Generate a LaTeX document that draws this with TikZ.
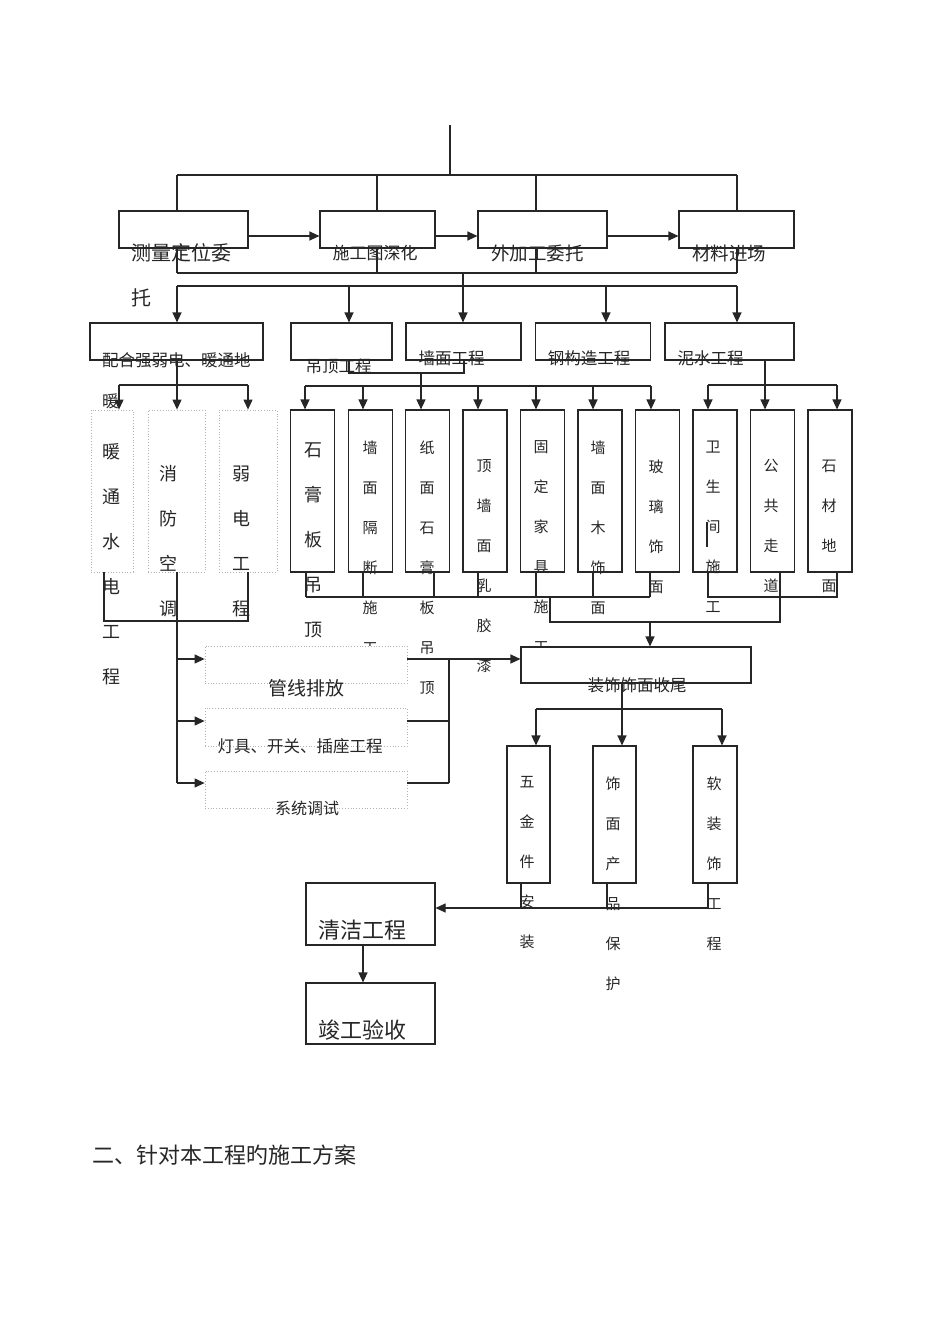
\documentclass[tikz,border=0pt]{standalone}
\usepackage{fontspec}
\setmainfont{Noto Sans CJK SC}
\usetikzlibrary{arrows.meta}
\newcommand\colA{\fontsize{18}{45}\selectfont}
\newcommand\colB{\fontsize{15}{40}\selectfont}
\newcommand\fsz[1]{\fontsize{#1}{#1}\selectfont}

\begin{document}
\begin{tikzpicture}[x=1pt,y=-1pt,
    box/.style={draw=black!85, line width=1.1pt, fill=white, inner sep=0pt},
    faint/.style={draw=black!30, dotted, line width=0.8pt, fill=white, inner sep=0pt},
    tall/.style={box, minimum width=44pt, minimum height=162pt},
    link/.style={draw=black!85, line width=1.1pt},
    arr/.style={link, -{Triangle[length=10pt,width=9pt]}},
    lbl/.style={inner sep=0pt, text=black!85},
    col/.style={lbl, anchor=north, align=center}]
    \useasboundingbox (0,0) rectangle (950,1344);

    % Preparation row
    \node[box, minimum width=129pt, minimum height=37pt] (survey) at (183.5,229.5) {};
    \node[box, minimum width=115pt, minimum height=37pt] (drawing) at (377.5,229.5) {};
    \node[box, minimum width=129pt, minimum height=37pt] (outsource) at (542.5,229.5) {};
    \node[box, minimum width=115pt, minimum height=37pt] (material) at (736.5,229.5) {};

    \coordinate (top) at (450,125);
    \coordinate (t1) at (177,175);
    \coordinate (t2) at (377,175);
    \coordinate (t3) at (536,175);
    \coordinate (t4) at (737,175);
    \draw[link] (top) -- (top |- t1);
    \draw[link] (t1) -- (t4);
    \foreach \p/\q in {t1/survey,t2/drawing,t3/outsource,t4/material}
        \draw[link] (\p) -- (\p |- \q.north);
    \foreach \p/\q in {survey/drawing,drawing/outsource,outsource/material}
        \draw[arr] ([yshift=-6.5pt]\p.east) -- ([yshift=-6.5pt]\q.west);

    % Trades row
    \node[box, minimum width=173pt, minimum height=37pt] (coord) at (176.5,341.5) {};
    \node[box, minimum width=101pt, minimum height=37pt] (ceiling) at (341.5,341.5) {};
    \node[box, minimum width=115pt, minimum height=37pt] (wall) at (463.5,341.5) {};
    \node[box, minimum width=115pt, minimum height=37pt] (steel) at (593,341.5) {};
    \node[box, minimum width=129pt, minimum height=37pt] (masonry) at (729.5,341.5) {};

    \coordinate (g1) at (177,273);
    \coordinate (g2) at (377,273);
    \coordinate (g3) at (536,273);
    \coordinate (g4) at (737,273);
    \draw[link] (g1) -- (g4);
    \foreach \p/\q in {g1/survey,g2/drawing,g3/outsource,g4/material}
        \draw[link] (\q.south -| \p) -- (\p);
    \coordinate (gm) at (463,273);
    \draw[arr] (gm) -- (gm |- wall.north);
    \coordinate (h1) at (177,286);
    \coordinate (h2) at (349,286);
    \coordinate (h4) at (606,286);
    \coordinate (h5) at (737,286);
    \draw[link] (h1) -- (h5);
    \foreach \p/\q in {h1/coord,h2/ceiling,h4/steel,h5/masonry}
        \draw[arr] (\p) -- (\p |- \q.north);

    % Work items
    \node[faint, minimum width=42pt, minimum height=162pt] (hvac) at (112,491) {};
    \node[faint, minimum width=57pt, minimum height=162pt] (fire) at (176.5,491) {};
    \node[faint, minimum width=58pt, minimum height=162pt] (weak) at (248,491) {};
    \node[tall] (gypsum) at (312.5,491) {};
    \node[tall] (partition) at (370.5,491) {};
    \node[tall] (paper) at (427.5,491) {};
    \node[tall] (paint) at (485,491) {};
    \node[tall] (furniture) at (542.5,491) {};
    \node[tall] (wood) at (600,491) {};
    \node[tall] (glass) at (657.5,491) {};
    \node[tall] (toilet) at (715,491) {};
    \node[tall] (corridor) at (772.5,491) {};
    \node[tall] (stone) at (830,491) {};

    \coordinate (k0) at (177,385);
    \coordinate (k1) at (119,385);
    \coordinate (k3) at (248,385);
    \draw[arr] (coord.south -| k0) -- (k0 |- fire.north);
    \draw[link] (k1) -- (k3);
    \draw[arr] (k1) -- (k1 |- hvac.north);
    \draw[arr] (k3) -- (k3 |- weak.north);

    \coordinate (m1) at (349,373);
    \coordinate (m2) at (464,373);
    \coordinate (mj) at (421,373);
    \draw[link] (ceiling.south -| m1) -- (m1) -- (m2) -- (wall.south -| m2);
    \draw[arr] (mj) -- (mj |- paper.north);
    \draw[link] (305,386) coordinate (ca) -- (651,386) coordinate (cb);
    \foreach \p/\q in {305/gypsum,363/partition,478/paint,536/furniture,593/wood,651/glass} {
        \coordinate (d\q) at (\p,386);
        \draw[arr] (d\q) -- (d\q |- \q.north);
    }

    \coordinate (e0) at (765,385);
    \coordinate (e1) at (708,385);
    \coordinate (e3) at (837,385);
    \draw[arr] (masonry.south -| e0) -- (e0 |- corridor.north);
    \draw[link] (e1) -- (e3);
    \draw[arr] (e1) -- (e1 |- toilet.north);
    \draw[arr] (e3) -- (e3 |- stone.north);

    % Column texts
    \node[col, font=\colA] (hvacT) at (111,443) {暖\\通\\水\\电\\工\\程};
    \node[col, font=\colA] (fireT) at (168,465) {消\\防\\空\\调};
    \node[col, font=\colA] (weakT) at (241,466) {弱\\电\\工\\程};
    \node[col, font=\colA] (gypsumT) at (313,443) {石\\膏\\板\\吊\\顶};
    \node[col, font=\colB] (partitionT) at (370,440.5) {墙\\面\\隔\\断\\施\\工};
    \node[col, font=\colB] (paperT) at (427,440.5) {纸\\面\\石\\膏\\板\\吊\\顶};
    \node[col, font=\colB] (paintT) at (484,459.5) {顶\\墙\\面\\乳\\胶\\漆};
    \node[col, font=\colB] (furnitureT) at (541,440.5) {固\\定\\家\\具\\施\\工};
    \node[col, font=\colB] (woodT) at (598,440.5) {墙\\面\\木\\饰\\面};
    \node[col, font=\colB] (glassT) at (656,459.5) {玻\\璃\\饰\\面};
    \node[col, font=\colB] (toiletT) at (713,440.5) {卫\\生\\间\\施\\工};
    \node[col, font=\colB] (corridorT) at (771,459.5) {公\\共\\走\\道};
    \node[col, font=\colB] (stoneT) at (829,459.5) {石\\材\\地\\面};
    \draw[link] (707,522) -- (707,547);

    % Electrical sub-steps
    \node[faint, minimum width=202pt, minimum height=37pt] (pipe) at (306,664.5) {};
    \node[faint, minimum width=202pt, minimum height=38pt] (lamp) at (306,727) {};
    \node[faint, minimum width=202pt, minimum height=37pt] (debug) at (306,789.5) {};
    \node[box, minimum width=230pt, minimum height=36pt] (finish) at (636,665) {};

    \coordinate (f1) at (104,621);
    \coordinate (f3) at (248,621);
    \draw[link] (hvac.south -| f1) -- (f1) -- (f3) -- (weak.south -| f3);
    \coordinate (tr1) at (177,659);
    \coordinate (tr2) at (177,721);
    \coordinate (tr3) at (177,783);
    \draw[link] (fire.south -| tr3) -- (tr3);
    \foreach \p/\q in {tr1/pipe,tr2/lamp,tr3/debug}
        \draw[arr] (\p) -- (\p -| \q.west);
    \coordinate (ri1) at (449,659);
    \coordinate (ri2) at (449,721);
    \coordinate (ri3) at (449,783);
    \foreach \p/\q in {ri1/pipe,ri2/lamp,ri3/debug}
        \draw[link] (\p -| \q.east) -- (\p);
    \draw[link] (ri1) -- (ri3);
    \draw[arr] (ri1) -- (ri1 -| finish.west);

    % Decoration finishing
    \foreach \p/\q in {306/gypsum,363/partition,434/paper,478/paint,536/furniture,593/wood,650/glass} {
        \coordinate (b\q) at (\p,597);
        \draw[link] (\q.south -| b\q) -- (b\q);
    }
    \draw[link] (bgypsum) -- (bglass);
    \coordinate (btoilet) at (708,597);
    \coordinate (bstone) at (837,597);
    \draw[link] (toilet.south -| btoilet) -- (btoilet) -- (bstone) -- (stone.south -| bstone);
    \coordinate (j1) at (550,597);
    \coordinate (j2) at (550,622);
    \coordinate (j3) at (780,622);
    \coordinate (j4) at (650,622);
    \draw[link] (j1) -- (j2) -- (j3) -- (corridor.south -| j3);
    \draw[arr] (j4) -- (j4 |- finish.north);

    % Final items
    \node[box, minimum width=43pt, minimum height=137pt] (hardware) at (528.5,814.5) {};
    \node[box, minimum width=43pt, minimum height=137pt] (protect) at (614.5,814.5) {};
    \node[box, minimum width=44pt, minimum height=137pt] (soft) at (715,814.5) {};
    \node[box, minimum width=129pt, minimum height=62pt] (clean) at (370.5,914) {};
    \node[box, minimum width=129pt, minimum height=61pt] (accept) at (370.5,1013.5) {};

    \coordinate (l0) at (622,709);
    \coordinate (l1) at (536,709);
    \coordinate (l3) at (722,709);
    \draw[arr] (finish.south -| l0) -- (l0 |- protect.north);
    \draw[link] (l1) -- (l3);
    \draw[arr] (l1) -- (l1 |- hardware.north);
    \draw[arr] (l3) -- (l3 |- soft.north);
    \coordinate (o1) at (521,908);
    \coordinate (o2) at (607,908);
    \coordinate (o3) at (708,908);
    \foreach \p/\q in {o1/hardware,o2/protect,o3/soft}
        \draw[link] (\q.south -| \p) -- (\p);
    \draw[arr] (o3) -- (o3 -| clean.east);
    \coordinate (cq) at (363,960);
    \draw[arr] (clean.south -| cq) -- (cq |- accept.north);

    % Labels
    \node[lbl, anchor=west, font=\fsz{20}] (surveyT) at (131,253) {测量定位委};
    \node[lbl, anchor=west, font=\fsz{20}] (surveyT2) at (131,298) {托};
    \node[lbl, font=\fsz{17}] (drawingT) at (375,253) {施工图深化};
    \node[lbl, font=\fsz{18.5}] (outsourceT) at (537.5,253) {外加工委托};
    \node[lbl, font=\fsz{18.5}] (materialT) at (729,253) {材料进场};
    \node[lbl, anchor=west, font=\fsz{16.5}] (coordT) at (102,360) {配合强弱电、暖通地};
    \node[lbl, anchor=west, font=\fsz{16.5}] (coordT2) at (102,401) {暖};
    \node[lbl, font=\fsz{16.5}] (ceilingT) at (338.5,366) {吊顶工程};
    \node[lbl, font=\fsz{16.5}] (wallT) at (451.5,358) {墙面工程};
    \node[lbl, font=\fsz{16.5}] (steelT) at (589,358) {钢构造工程};
    \node[lbl, font=\fsz{16.5}] (masonryT) at (710.5,358) {泥水工程};
    \node[lbl, font=\fsz{19}] (pipeT) at (306,688) {管线排放};
    \node[lbl, font=\fsz{16.5}] (lampT) at (300,746) {灯具、开关、插座工程};
    \node[lbl, font=\fsz{16}] (debugT) at (307,808) {系统调试};
    \node[lbl, font=\fsz{16.5}] (finishT) at (637,685) {装饰饰面收尾};
    \node[col, font=\colB] (hardwareT) at (527,776.5) {五\\金\\件\\安\\装};
    \node[col, font=\colB] (protectT) at (613,776.5) {饰\\面\\产\\品\\保\\护};
    \node[col, font=\colB] (softT) at (714,776.5) {软\\装\\饰\\工\\程};
    \node[lbl, font=\fsz{22}] (cleanT) at (362,930) {清洁工程};
    \node[lbl, font=\fsz{22}] (acceptT) at (362,1030) {竣工验收};

    % Heading
    \node[lbl, anchor=west, font=\fsz{22}] (title) at (92,1155) {二、针对本工程旳施工方案};
\end{tikzpicture}
\end{document}
